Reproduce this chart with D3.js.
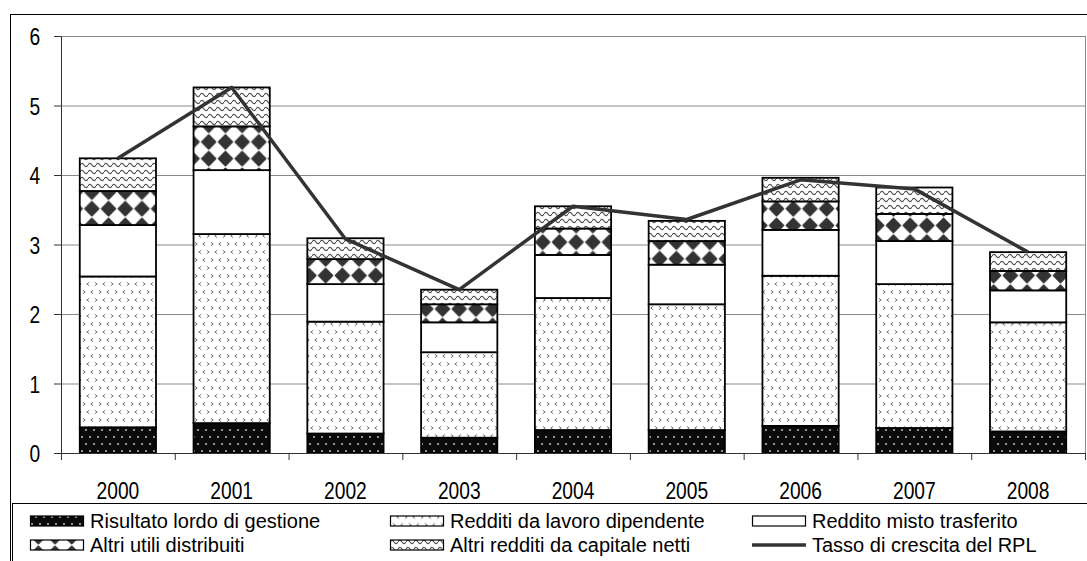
<!DOCTYPE html>
<html>
<head>
<meta charset="utf-8">
<script src="https://cdn.jsdelivr.net/npm/d3@7"></script>
<style>
  body { margin: 0; background: #fff; }
  svg { display: block; font-family: "Liberation Sans", Arial, sans-serif; }
</style>
</head>
<body>
<svg id="chart" width="1087" height="561"></svg>
<script>
// values
const years = ["2000", "2001", "2002", "2003", "2004", "2005", "2006", "2007", "2008"];
const risultato = [0.37, 0.43, 0.28, 0.22, 0.33, 0.33, 0.39, 0.36, 0.31];
const lavoro    = [2.17, 2.72, 1.61, 1.23, 1.90, 1.81, 2.16, 2.07, 1.57];
const misto     = [0.74, 0.92, 0.54, 0.43, 0.62, 0.57, 0.66, 0.62, 0.46];
const utili     = [0.49, 0.63, 0.36, 0.26, 0.38, 0.34, 0.41, 0.39, 0.28];
const capitale  = [0.47, 0.56, 0.30, 0.21, 0.32, 0.29, 0.34, 0.38, 0.27];
const tasso     = [4.24, 5.26, 3.08, 2.35, 3.55, 3.36, 3.93, 3.80, 2.89];
const yTicks = [0, 1, 2, 3, 4, 5, 6];
const seriesNames = [
  "Risultato lordo di gestione",
  "Redditi da lavoro dipendente",
  "Reddito misto trasferito",
  "Altri utili distribuiti",
  "Altri redditi da capitale netti",
  "Tasso di crescita del RPL"
];

const keys = ["ris", "lav", "mis", "uti", "cap"];
const table = years.map((yr, i) => ({
  year: yr,
  ris: risultato[i],
  lav: lavoro[i],
  mis: misto[i],
  uti: utili[i],
  cap: capitale[i]
}));

const plotLeft = 61, plotRight = 1085, plotTop = 36, plotBottom = 453;
const svg = d3.select("#chart");

// ---- fill patterns
const defs = svg.append("defs");

const pRis = defs.append("pattern").attr("id", "p-ris")
  .attr("patternUnits", "userSpaceOnUse").attr("width", 8).attr("height", 14);
pRis.append("rect").attr("width", 8).attr("height", 14).attr("fill", "#0a0a0a");
[[2, 3], [6, 10]].forEach(([cx, cy]) =>
  pRis.append("rect").attr("x", cx - 0.8).attr("y", cy - 0.8)
    .attr("width", 1.6).attr("height", 1.6).attr("fill", "#ddd"));

const pLav = defs.append("pattern").attr("id", "p-lav")
  .attr("patternUnits", "userSpaceOnUse").attr("width", 16).attr("height", 16);
pLav.append("rect").attr("width", 16).attr("height", 16).attr("fill", "#fff");
const chev = (cx, cy, dir) => `M${cx - 1.2 * dir},${cy - 1.7}L${cx + 1.2 * dir},${cy}L${cx - 1.2 * dir},${cy + 1.7}`;
[[4, 4, 1], [12, 4, -1], [8, 12, -1], [0, 12, 1], [16, 12, 1]].forEach(([cx, cy, d]) =>
  pLav.append("path").attr("d", chev(cx, cy, d)).attr("fill", "none")
    .attr("stroke", "#7a7a7a").attr("stroke-width", 1));

const pUti = defs.append("pattern").attr("id", "p-uti")
  .attr("patternUnits", "userSpaceOnUse").attr("width", 16.7).attr("height", 16.7);
pUti.append("rect").attr("width", 16.7).attr("height", 16.7).attr("fill", "#fff");
pUti.append("path").attr("d", "M8.35,1.4L15.3,8.35L8.35,15.3L1.4,8.35Z")
  .attr("fill", "#333").attr("stroke", "#333").attr("stroke-width", 1.6)
  .attr("stroke-linejoin", "round");

const pCap = defs.append("pattern").attr("id", "p-cap")
  .attr("patternUnits", "userSpaceOnUse").attr("width", 8).attr("height", 7);
pCap.append("rect").attr("width", 8).attr("height", 7).attr("fill", "#fff");
pCap.append("path").attr("d", "M0,4 Q2,0.6 4,4 T8,4").attr("fill", "none")
  .attr("stroke", "#555").attr("stroke-width", 1.2);

const fills = {
  ris: "url(#p-ris)",
  lav: "url(#p-lav)",
  mis: "#fff",
  uti: "url(#p-uti)",
  cap: "url(#p-cap)"
};

// ---- scales
const x = d3.scaleBand().domain(years).range([plotLeft, plotRight])
  .paddingInner(0.33).paddingOuter(0.165);
const xi = d3.scaleLinear().domain([0, years.length]).range([plotLeft, plotRight]);
const y = d3.scaleLinear().domain([0, 6]).range([plotBottom, plotTop]);

// outer frame
svg.append("rect").attr("x", 10.5).attr("y", 14.5).attr("width", 1100).attr("height", 600)
  .attr("fill", "none").attr("stroke", "#000");

// gridlines
svg.append("g").selectAll("line").data(yTicks.slice(1)).join("line")
  .attr("x1", plotLeft).attr("x2", plotRight)
  .attr("y1", d => y(d) + 0.5).attr("y2", d => y(d) + 0.5)
  .attr("stroke", "#8a8a8a").attr("stroke-width", 1);
svg.append("line").attr("x1", plotRight + 0.5).attr("x2", plotRight + 0.5)
  .attr("y1", plotTop).attr("y2", plotBottom).attr("stroke", "#8a8a8a");

// ---- stacked bars
const stacked = d3.stack().keys(keys)(table);
svg.append("g").selectAll("g").data(stacked).join("g")
  .attr("fill", d => fills[d.key])
  .selectAll("rect").data(d => d).join("rect")
  .attr("x", d => x(d.data.year))
  .attr("y", d => y(d[1]))
  .attr("width", x.bandwidth())
  .attr("height", d => y(d[0]) - y(d[1]))
  .attr("stroke", "#000").attr("stroke-width", 1.8);

// ---- axes
const yAxis = svg.append("g").attr("transform", `translate(${plotLeft},0)`)
  .call(d3.axisLeft(y).tickValues(yTicks).tickSize(7).tickFormat(d3.format("d")));
yAxis.select(".domain").attr("stroke", "#333");
yAxis.selectAll(".tick line").attr("stroke", "#333");
yAxis.selectAll("text")
  .attr("x", -26).attr("dy", "0.36em")
  .attr("transform", "scale(0.8,1)")
  .attr("font-size", 24).attr("fill", "#000")
  .attr("font-family", "Liberation Sans, Arial, sans-serif");

const xTicks = svg.append("g").attr("transform", `translate(0,${plotBottom})`)
  .call(d3.axisBottom(xi).tickValues(d3.range(years.length + 1)).tickSize(7).tickFormat(""));
xTicks.select(".domain").attr("stroke", "#333");
xTicks.selectAll(".tick line").attr("stroke", "#333");

const xLabels = svg.append("g").attr("transform", `translate(0,${plotBottom})`)
  .call(d3.axisBottom(x).tickSize(0));
xLabels.select(".domain").remove();
xLabels.selectAll("text")
  .attr("y", 0).attr("dy", 0)
  .attr("transform", "translate(0,46) scale(0.8,1)")
  .attr("font-size", 24).attr("fill", "#000")
  .attr("font-family", "Liberation Sans, Arial, sans-serif");

// ---- growth rate line
const line = d3.line()
  .x((d, i) => x(years[i]) + x.bandwidth() / 2)
  .y(d => y(d));
svg.append("path").datum(tasso)
  .attr("d", line)
  .attr("fill", "none").attr("stroke", "#333").attr("stroke-width", 3.5)
  .attr("stroke-linejoin", "round");

// ---- legend
svg.append("rect").attr("x", 12.5).attr("y", 503.5).attr("width", 1100).attr("height", 100)
  .attr("fill", "none").attr("stroke", "#000");

const legendCols = [30, 390, 752];
const legendRows = [521, 545];
const legendFills = [fills.ris, fills.lav, fills.mis, fills.uti, fills.cap, null];
const legend = svg.append("g");
seriesNames.forEach((name, i) => {
  const cx = legendCols[i % 3];
  const cy = legendRows[Math.floor(i / 3)];
  const g = legend.append("g").attr("transform", `translate(${cx},${cy})`);
  if (legendFills[i]) {
    g.append("rect").attr("x", 0.5).attr("y", -5).attr("width", 53).attr("height", 10)
      .attr("fill", legendFills[i]).attr("stroke", "#000").attr("stroke-width", 1.2);
  } else {
    g.append("line").attr("x1", 0).attr("x2", 54).attr("y1", 0).attr("y2", 0)
      .attr("stroke", "#333").attr("stroke-width", 3.5);
  }
  g.append("text").attr("x", 60).attr("y", 7)
    .attr("font-size", 20).attr("fill", "#000")
    .text(name);
});
</script>
</body>
</html>
